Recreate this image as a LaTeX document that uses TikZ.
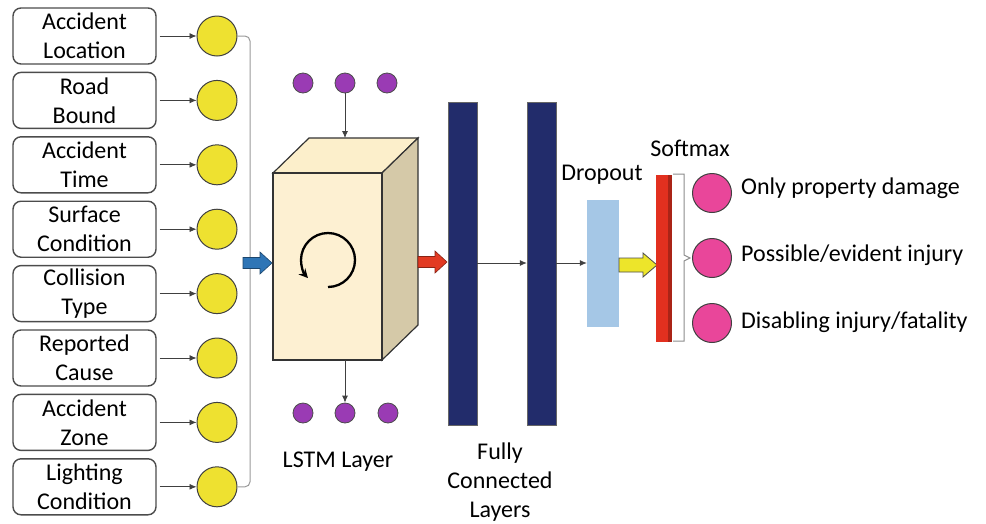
\documentclass[tikz,border=0pt]{standalone}
\usepackage{fontspec}
\setmainfont{Carlito}
\usetikzlibrary{arrows.meta}
\definecolor{ylw}{HTML}{EEE130}
\definecolor{pnk}{HTML}{E9469A}
\definecolor{prp}{HTML}{9A3BB4}
\definecolor{navy}{HTML}{222C6B}
\definecolor{drop}{HTML}{A5C7E6}
\definecolor{cubefront}{HTML}{FDF0D2}
\definecolor{cubetop}{HTML}{FCEFCB}
\definecolor{cubeside}{HTML}{D5C9A8}
\definecolor{barred}{HTML}{E2301F}
\definecolor{blu}{HTML}{2E75B6}
\definecolor{rdarr}{HTML}{E23A22}
\definecolor{yarr}{HTML}{EDE52A}
\tikzset{
  inbox/.style={draw=black!70, line width=1.4pt, rounded corners=8pt, minimum width=143pt, minimum height=56pt, align=center, inner sep=0pt, font=\fontsize{24}{29}\selectfont},
  ycirc/.style={circle, draw=black!75, line width=1pt, fill=ylw, minimum size=40pt, inner sep=0pt},
  pcirc/.style={circle, draw=black!75, line width=1pt, fill=pnk, minimum size=39pt, inner sep=0pt},
  dot/.style={circle, draw=black!70, line width=0.8pt, fill=prp, minimum size=20pt, inner sep=0pt},
  fcbar/.style={draw=black!60, fill=navy, minimum width=29pt, minimum height=323pt, inner sep=0pt},
  conn/.style={draw=black!75, line width=0.8pt, -{Latex[length=7pt,width=6pt]}},
  lbl/.style={font=\fontsize{24}{29}\selectfont, align=center, inner sep=0pt},
  blockarr/.pic={\draw[pic actions] (0,-5.5) -- (17,-5.5) -- (17,-11) -- (29,0) -- (17,11) -- (17,5.5) -- (0,5.5) -- cycle;},
  bigarr/.pic={\draw[pic actions] (0,-7) -- (24,-7) -- (24,-12) -- (38,0) -- (24,12) -- (24,7) -- (0,7) -- cycle;}
}
\begin{document}
\begin{tikzpicture}[x=1pt,y=-1pt]
\useasboundingbox (0,0) rectangle (986,523);
% input boxes and circles
\foreach \t [count=\i] in {{Accident\\Location},{Road\\Bound},{Accident\\Time},{Surface\\Condition},{Collision\\Type},{Reported\\Cause},{Accident\\Zone},{Lighting\\Condition}}{
  \node[inbox] (in\i) at (84.5,{36+64.4*(\i-1)}) {\t};
  \node[ycirc] (c\i) at (217,{36+64.4*(\i-1)}) {};
  \draw[conn] (in\i.east) ++(3,0) -- (c\i.west);
}
% gathering line
\draw[draw=black!40, line width=1pt, rounded corners=5pt] (c1.east) -- (250,36) |- (c8.east);
% blue arrow
\pic[fill=blu, draw=blu!60!black, line width=0.6pt] at (243,263) {blockarr};
% LSTM cube
\coordinate (f1) at (273,173);
\coordinate (f2) at (382,173);
\coordinate (f3) at (382,360);
\coordinate (f4) at (273,360);
\draw[draw=black!80, line width=1.2pt, fill=cubetop] (f1) -- ++(36,-35) -- ++(109,0) -- (f2) -- cycle;
\draw[draw=black!80, line width=1.2pt, fill=cubeside] (f2) -- ++(36,-35) -- ++(0,187) -- (f3) -- cycle;
\draw[draw=black!80, line width=1.2pt, fill=cubefront] (f1) rectangle (f3);
\node[inner sep=0pt, minimum size=54pt] (lstm) at (328,260) {};
\draw[line width=2.3pt, -{Stealth[length=9pt,width=9pt]}] (lstm.center) ++(0,27) arc[start angle=90, end angle=-222, radius=27];
\coordinate (cubetopmid) at (345,138);
\coordinate (cubebotmid) at (345,360);
% purple dots
\node[dot] (t1) at (303,83) {};
\node[dot] (t2) at (345,83) {};
\node[dot] (t3) at (387,83) {};
\node[dot] (b1) at (303,413) {};
\node[dot] (b2) at (345,413) {};
\node[dot] (b3) at (388,413) {};
\draw[conn] (t2.south) -- (cubetopmid);
\draw[conn] (cubebotmid) -- (b2.north);
\node[lbl] (lstmlbl) at (338,462) {LSTM Layer};
% red arrow
\pic[fill=rdarr, draw=rdarr!60!black, line width=0.6pt] at (418,262) {blockarr};
% fully connected
\node[fcbar] (fc1) at (462.5,263.5) {};
\node[fcbar] (fc2) at (541.5,263.5) {};
\node[lbl] (fclbl) at (500,482) {Fully\\Connected\\Layers};
% dropout
\node[fill=drop, minimum width=32pt, minimum height=127pt, inner sep=0pt] (dr) at (603,263.5) {};
\node[lbl] (drlbl) at (602,175) {Dropout};
\draw[conn] (fc1.east |- 0,263) -- (fc2.west |- 0,263);
\draw[conn] (fc2.east |- 0,263) -- (dr.west |- 0,263);
% yellow arrow
\pic[fill=yarr, draw=black!70, line width=0.8pt] at (619,265) {bigarr};
% softmax
\node[fill=barred, minimum width=16pt, minimum height=167pt, inner sep=0pt] (sm) at (664,258.5) {};
\fill[barred!75!black] (668,175) rectangle (672,342);
\node[lbl] (smlbl) at (690,148) {Softmax};
\draw[draw=black!45, line width=1pt] (673,174) -- (684,174) -- (684,255) -- (690,258) -- (684,261) -- (684,341) -- (673,341);
% outputs
\node[pcirc] (o1) at (712,193) {};
\node[pcirc] (o2) at (712,258) {};
\node[pcirc] (o3) at (712,323) {};
\node[lbl, anchor=west] (l1) at (741,188) {Only property damage};
\node[lbl, anchor=west] (l2) at (741,255) {Possible/evident injury};
\node[lbl, anchor=west] (l3) at (741,322) {Disabling injury/fatality};
\end{tikzpicture}
\end{document}
